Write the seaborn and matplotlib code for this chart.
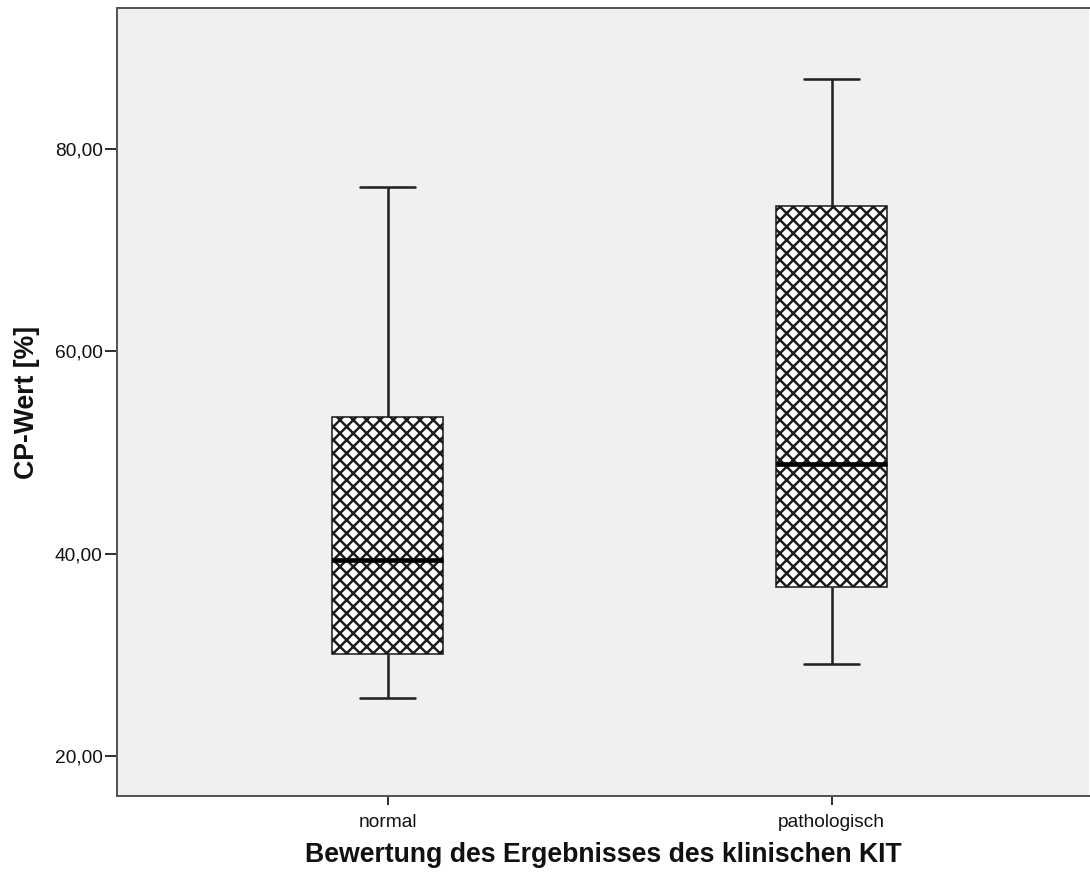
import numpy as np
import pandas as pd
import matplotlib
matplotlib.use("Agg")
import matplotlib.pyplot as plt
import seaborn as sns
from matplotlib.ticker import FuncFormatter

# Five-number summaries (min, Q1, median, Q3, max)
categories = ["normal", "pathologisch"]
normal_vals = [25.73, 30.08, 39.37, 53.51, 76.24]
patho_vals = [29.09, 36.70, 48.86, 74.36, 86.92]
y_ticks = [20, 40, 60, 80]
x_label = "Bewertung des Ergebnisses des klinischen KIT"
y_label = "CP-Wert [%]"

df = pd.DataFrame({
    "group": [categories[0]] * len(normal_vals) + [categories[1]] * len(patho_vals),
    "value": normal_vals + patho_vals,
})

sns.set_theme(style="white")
plt.rcParams["font.family"] = ["Liberation Sans", "DejaVu Sans"]
plt.rcParams["hatch.linewidth"] = 2.2

DPI = 80
fig = plt.figure(figsize=(1090 / DPI, 876 / DPI), dpi=DPI)
ax = fig.add_axes([117 / 1090, 1 - 796 / 876, (1089 - 117) / 1090, (796 - 8) / 876])
ax.set_facecolor("#F0F0F0")

sns.boxplot(
    data=df, x="group", y="value", order=categories, ax=ax,
    width=0.25, whis=1.5, color="white", linecolor="#222222", linewidth=2.0,
    showfliers=False,
    medianprops=dict(color="black", linewidth=4.2),
    whiskerprops=dict(color="#222222", linewidth=2.3),
    capprops=dict(color="#222222", linewidth=2.3),
)
for p in ax.patches:
    p.set_hatch("xx")
    p.set_facecolor("white")
    p.set_edgecolor("#1a1a1a")
    p.set_linewidth(1.4)

ax.set_xlim(-0.61, 1.58)
ax.set_ylim(16.05, 93.93)
ax.set_yticks(y_ticks)
ax.yaxis.set_major_formatter(FuncFormatter(lambda v, _: f"{v:.2f}".replace(".", ",")))

ax.tick_params(axis="y", direction="out", length=11, width=1.8, color="#333333",
               labelsize=17.2, labelcolor="#111111", left=True, pad=2)
ax.tick_params(axis="x", direction="out", length=8, width=1.8, color="#333333",
               labelsize=17.2, labelcolor="#111111", bottom=True, pad=8)

for name, sp in ax.spines.items():
    sp.set_color("#555555")
    sp.set_linewidth(1.8)
ax.spines["right"].set_visible(False)

ax.set_xlabel(x_label, fontsize=24, fontweight="bold", color="#111111", labelpad=10)
ax.set_ylabel(y_label, fontsize=24, fontweight="bold", color="#111111", labelpad=13)

fig.savefig("out.png", dpi=DPI, facecolor="white")
